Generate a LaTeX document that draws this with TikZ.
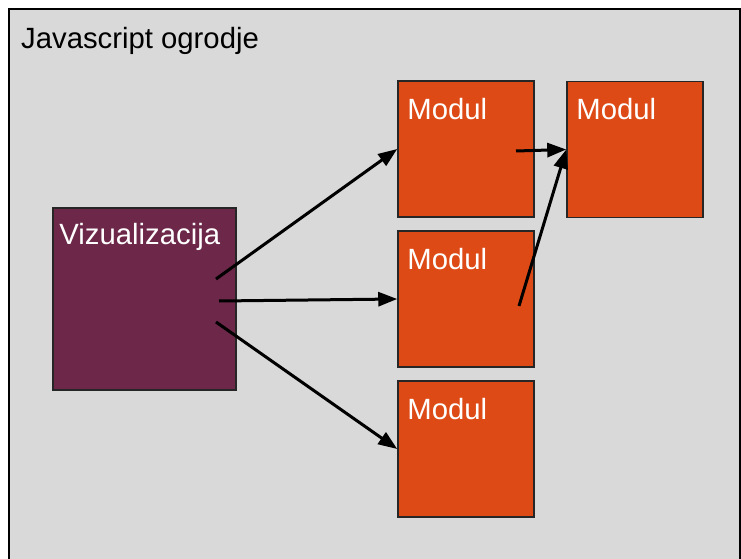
\documentclass[tikz,border=0pt]{standalone}
\usepackage{fontspec}
\setmainfont{Liberation Sans}
\usetikzlibrary{arrows.meta}
\definecolor{okvir}{RGB}{217,217,217}
\definecolor{vijola}{RGB}{108,39,73}
\definecolor{oranzna}{RGB}{222,74,22}
\begin{document}
\begin{tikzpicture}[x=1bp,y=-1bp,
  font=\fontsize{29.4}{35}\selectfont,
  blok/.style={draw=black!85,line width=1.5bp,inner sep=0,minimum width=136bp,minimum height=136bp,fill=oranzna},
  napis/.style={label={[inner sep=0,anchor=base west,xshift=10bp,yshift=-39bp,text=white]north west:#1}},
  puscica/.style={line width=3bp,-{Triangle[length=19bp,width=14bp]}}]
\useasboundingbox (0,0) rectangle (741,559);
\draw[line width=2bp,fill=okvir] (9,9) rectangle (740,575);
\node[anchor=base west,inner sep=0] (naslov) at (21,49) {Javascript ogrodje};
\node[blok,fill=vijola,minimum width=183bp,minimum height=182bp,
  label={[inner sep=0,anchor=base west,xshift=7bp,yshift=-37bp,text=white]north west:Vizualizacija}] (viz) at (144.5,299) {};
\node[blok,napis=Modul] (mod1) at (466,149) {};
\node[blok,napis=Modul] (mod2) at (466,299) {};
\node[blok,napis=Modul] (mod3) at (466,449) {};
\node[blok,napis=Modul] (mod4) at (635,149.5) {};
\coordinate (v1) at (216,279);
\coordinate (v2) at (219,301);
\coordinate (v3) at (216,322);
\coordinate (m1) at (516,151);
\coordinate (m2) at (519,306);
\draw[puscica] (v1) -- (mod1.west);
\draw[puscica] (v2) -- (mod2.west);
\draw[puscica] (v3) -- (mod3.west);
\draw[puscica] (m1) -- (mod4.west);
\draw[puscica] (m2) -- (mod4.west);
\end{tikzpicture}
\end{document}
